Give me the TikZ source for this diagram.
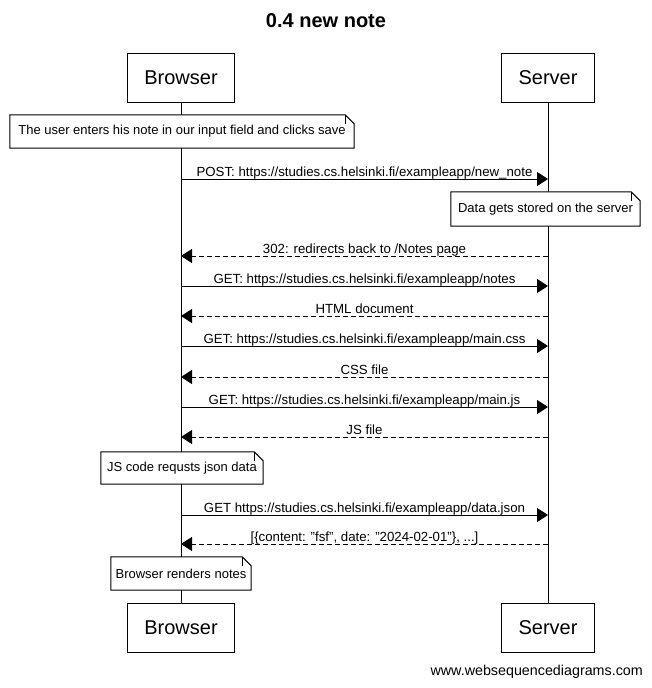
\documentclass[tikz,border=0pt]{standalone}
\usepackage{fontspec}
\setmainfont{Liberation Sans}
\usetikzlibrary{arrows.meta}
\newcommand\notefold[1]{%
  \draw[line width=1pt] (#1.north west) -- ([xshift=-9pt]#1.north east) -- ([yshift=-9pt]#1.north east) -- (#1.south east) -- (#1.south west) -- cycle;
  \draw[line width=1pt] ([xshift=-9pt]#1.north east) -- ([xshift=-9pt,yshift=-9pt]#1.north east);}
\newcommand\dq{\symbol{34}}
\begin{document}
\begin{tikzpicture}[x=1pt,y=-1pt,
  actor/.style={draw, line width=1pt, minimum height=49pt, inner sep=0, fill=white, font=\fontsize{20}{24}\selectfont},
  notebox/.style={inner sep=0, minimum height=33pt, fill=white, font=\fontsize{13}{15}\selectfont},
  msg/.style={line width=1pt, -{Triangle[length=11pt,width=14pt]}},
  reply/.style={msg, dash pattern=on 5pt off 3pt},
  lbl/.style={anchor=base, yshift=3pt, inner sep=0, font=\fontsize{13.25}{15}\selectfont},
  life/.style={line width=1pt}]
\useasboundingbox (0,0) rectangle (652,688);
\fill[white] (0,0) rectangle (652,688);

% title
\node[font=\bfseries\fontsize{20}{24}\selectfont] (title) at (326,21) {0.4 new note};

% actors
\node[actor, minimum width=107pt] (bt) at (181,77.5) {Browser};
\node[actor, minimum width=93pt] (st) at (548,77.5) {Server};
\node[actor, minimum width=107pt] (bb) at (181,628) {Browser};
\node[actor, minimum width=93pt] (sb) at (548,628) {Server};

% lifelines
\draw[life] (bt.south) -- (bb.north);
\draw[life] (st.south) -- (sb.north);

% notes
\node[notebox, minimum width=344pt] (n1) at (182,131.5) {The user enters his note in our input field and clicks save};
\notefold{n1}
\node[notebox, minimum width=189pt, minimum height=34pt] (n2) at (545.5,209) {Data gets stored on the server};
\notefold{n2}
\node[notebox, minimum width=162pt, minimum height=32pt] (n3) at (182,468) {JS code requsts json data};
\notefold{n3}
\node[notebox, minimum width=140pt] (n4) at (181,573.5) {Browser renders notes};
\notefold{n4}

% message endpoints
\coordinate (b1) at (181,179);  \coordinate (s1) at (548,179);
\coordinate (b2) at (181,256);  \coordinate (s2) at (548,256);
\coordinate (b3) at (181,286);  \coordinate (s3) at (548,286);
\coordinate (b4) at (181,316);  \coordinate (s4) at (548,316);
\coordinate (b5) at (181,346);  \coordinate (s5) at (548,346);
\coordinate (b6) at (181,377);  \coordinate (s6) at (548,377);
\coordinate (b7) at (181,407);  \coordinate (s7) at (548,407);
\coordinate (b8) at (181,437);  \coordinate (s8) at (548,437);
\coordinate (b9) at (181,515);  \coordinate (s9) at (548,515);
\coordinate (b10) at (181,544); \coordinate (s10) at (548,544);

% messages
\draw[msg] (b1) -- node[lbl] {POST: https://studies.cs.helsinki.fi/exampleapp/new\_note} (s1);
\draw[reply] (s2) -- node[lbl] {302: redirects back to /Notes page} (b2);
\draw[msg] (b3) -- node[lbl] {GET: https://studies.cs.helsinki.fi/exampleapp/notes} (s3);
\draw[reply] (s4) -- node[lbl] {HTML document} (b4);
\draw[msg] (b5) -- node[lbl] {GET: https://studies.cs.helsinki.fi/exampleapp/main.css} (s5);
\draw[reply] (s6) -- node[lbl] {CSS file} (b6);
\draw[msg] (b7) -- node[lbl] {GET: https://studies.cs.helsinki.fi/exampleapp/main.js} (s7);
\draw[reply] (s8) -- node[lbl] {JS file} (b8);
\draw[msg] (b9) -- node[lbl] {GET https://studies.cs.helsinki.fi/exampleapp/data.json} (s9);
\draw[reply] (s10) -- node[lbl] {[\{content: \dq fsf\dq, date: \dq 2024-02-01\dq\}, ...]} (b10);

% footer
\node[anchor=east, inner sep=0, font=\fontsize{14.3}{16}\selectfont] (footer) at (643,672) {www.websequencediagrams.com};
\end{tikzpicture}
\end{document}
